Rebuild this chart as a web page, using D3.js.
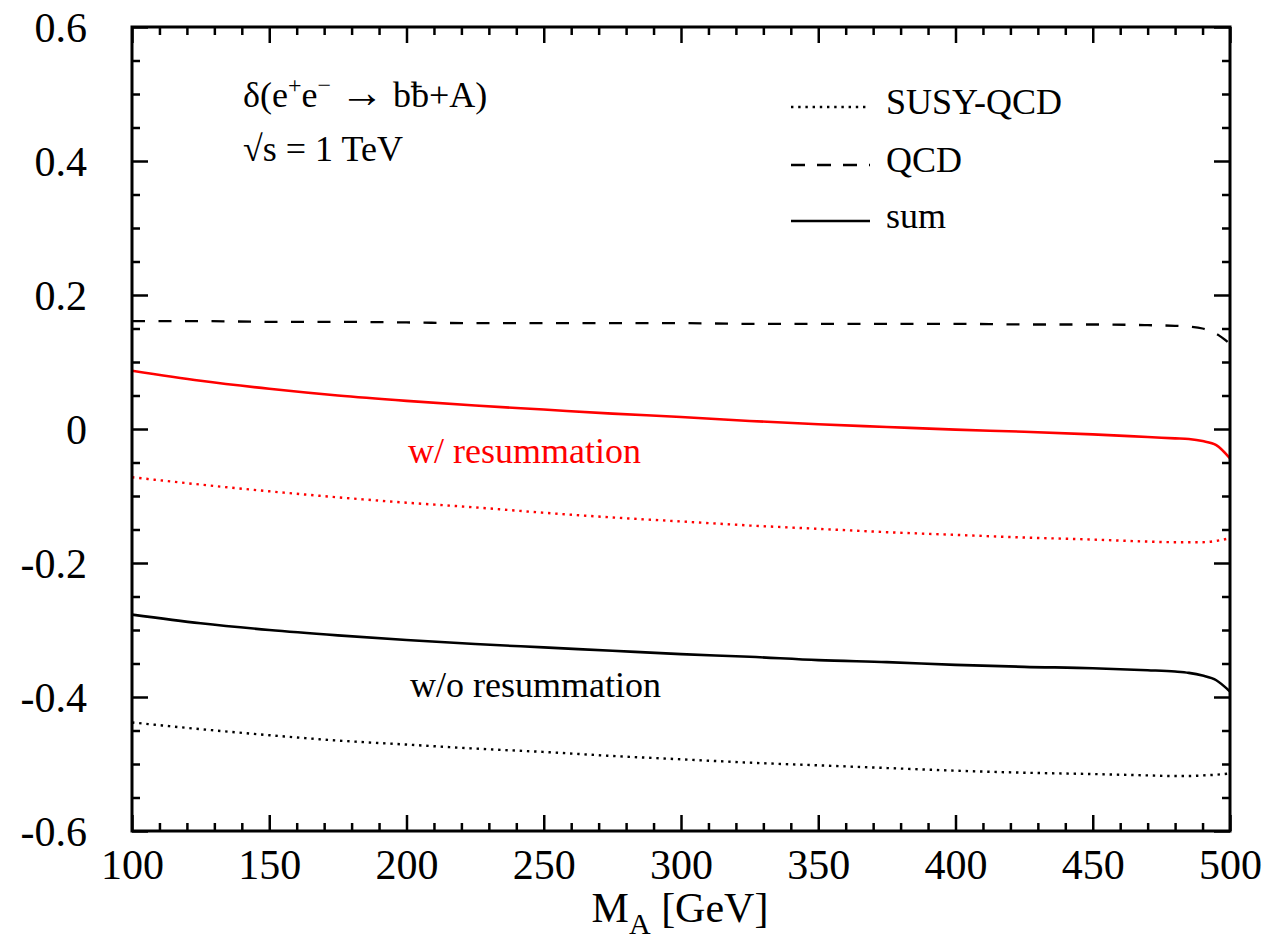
<!DOCTYPE html>
<html>
<head>
<meta charset="utf-8">
<script src="https://cdn.jsdelivr.net/npm/d3@7"></script>
<style>
  html, body { margin: 0; padding: 0; background: #fff; }
  svg { display: block; }
  svg text { font-family: "Liberation Serif", "Times New Roman", "Nimbus Roman", "DejaVu Serif", serif !important; fill: #000; }
</style>
</head>
<body>
<svg id="chart" width="1281" height="949"></svg>
<script>
// Higgs mass grid (GeV)
const massA = [100, 125, 150, 175, 200, 225, 250, 275, 300, 325, 350, 375, 400, 425, 450, 470, 480, 485, 490, 495, 500];

// Relative corrections with resummation (red)
const susyQcdRes = [-0.072, -0.083, -0.093, -0.102, -0.110, -0.117, -0.125, -0.132, -0.138, -0.144, -0.149, -0.154, -0.158, -0.162, -0.165, -0.168, -0.169, -0.169, -0.169, -0.167, -0.163];
const sumRes     = [0.087, 0.072, 0.060, 0.050, 0.042, 0.035, 0.029, 0.023, 0.018, 0.012, 0.007, 0.003, -0.001, -0.004, -0.008, -0.012, -0.014, -0.015, -0.018, -0.024, -0.044];

// QCD correction (common to both)
const qcd        = [0.161, 0.161, 0.160, 0.160, 0.159, 0.158, 0.158, 0.158, 0.158, 0.157, 0.157, 0.157, 0.157, 0.156, 0.156, 0.155, 0.154, 0.153, 0.150, 0.142, 0.127];

// Relative corrections without resummation (black)
const susyQcdNoRes = [-0.438, -0.448, -0.457, -0.465, -0.471, -0.477, -0.482, -0.488, -0.493, -0.498, -0.502, -0.506, -0.510, -0.513, -0.515, -0.517, -0.518, -0.518, -0.517, -0.516, -0.514];
const sumNoRes     = [-0.277, -0.290, -0.300, -0.308, -0.315, -0.321, -0.326, -0.331, -0.336, -0.340, -0.345, -0.348, -0.352, -0.355, -0.357, -0.360, -0.362, -0.364, -0.368, -0.375, -0.392];

// Axis ticks
const xMajorTicks = [100, 150, 200, 250, 300, 350, 400, 450, 500];
const xMinorTicks = d3.range(100, 501, 10).filter(v => v % 50 !== 0);
const yMajorTicks = [0.6, 0.4, 0.2, 0, -0.2, -0.4, -0.6];
const yMinorTicks = d3.range(-12, 13).filter(k => k % 4 !== 0).map(k => k * 0.05);
const yTickLabels = ["0.6", "0.4", "0.2", "0", "-0.2", "-0.4", "-0.6"];

const frame = { left: 132, right: 1230, top: 27, bottom: 831 };
const svg = d3.select("#chart");

const x = d3.scaleLinear().domain([100, 500]).range([frame.left, frame.right]);
const y = d3.scaleLinear().domain([-0.6, 0.6]).range([frame.bottom, frame.top]);

// Clip the curves to the frame
svg.append("defs").append("clipPath").attr("id", "plot-clip")
  .append("rect").attr("x", frame.left).attr("y", frame.top)
  .attr("width", frame.right - frame.left).attr("height", frame.bottom - frame.top);

const line = d3.line()
  .x(d => x(d[0]))
  .y(d => y(d[1]))
  .curve(d3.curveMonotoneX);

const series = [
  { values: qcd,          color: "#000", dash: "13,13.5", width: 2.3 },
  { values: susyQcdRes,   color: "#ff0000", dash: "2.4,4.8", width: 2.4 },
  { values: sumRes,       color: "#ff0000", dash: null, width: 2.6 },
  { values: susyQcdNoRes, color: "#000", dash: "2.4,4.8", width: 2.4 },
  { values: sumNoRes,     color: "#000", dash: null, width: 2.6 }
];

const curves = svg.append("g").attr("clip-path", "url(#plot-clip)");
series.forEach(s => {
  curves.append("path")
    .datum(massA.map((m, i) => [m, s.values[i]]))
    .attr("d", line)
    .attr("fill", "none")
    .attr("stroke", s.color)
    .attr("stroke-width", s.width)
    .attr("stroke-dasharray", s.dash);
});

// Ticks on all four sides, pointing inward
function styleTicks(g) {
  g.attr("font-family", null);
  g.select(".domain").remove();
  g.selectAll(".tick line").attr("stroke", "#000").attr("stroke-width", 2.5);
}

svg.append("g").attr("transform", `translate(0,${frame.bottom})`)
  .call(d3.axisBottom(x).tickValues(xMinorTicks).tickSize(-8).tickFormat(""))
  .call(styleTicks);
svg.append("g").attr("transform", `translate(0,${frame.bottom})`)
  .call(d3.axisBottom(x).tickValues(xMajorTicks).tickSize(-16).tickFormat(d3.format("d")))
  .call(styleTicks)
  .call(g => g.selectAll(".tick text").attr("y", 48).attr("dy", null)
    .attr("font-size", 42).attr("fill", "#000"));
svg.append("g").attr("transform", `translate(0,${frame.top})`)
  .call(d3.axisTop(x).tickValues(xMinorTicks).tickSize(-8).tickFormat(""))
  .call(styleTicks);
svg.append("g").attr("transform", `translate(0,${frame.top})`)
  .call(d3.axisTop(x).tickValues(xMajorTicks).tickSize(-16).tickFormat(""))
  .call(styleTicks);

svg.append("g").attr("transform", `translate(${frame.left},0)`)
  .call(d3.axisLeft(y).tickValues(yMinorTicks).tickSize(-8).tickFormat(""))
  .call(styleTicks);
svg.append("g").attr("transform", `translate(${frame.left},0)`)
  .call(d3.axisLeft(y).tickValues(yMajorTicks).tickSize(-16)
    .tickFormat((d, i) => yTickLabels[i]))
  .call(styleTicks)
  .call(g => g.selectAll(".tick text").attr("x", -45).attr("dy", "0.35em")
    .attr("font-size", 42).attr("fill", "#000"));
svg.append("g").attr("transform", `translate(${frame.right},0)`)
  .call(d3.axisRight(y).tickValues(yMinorTicks).tickSize(-8).tickFormat(""))
  .call(styleTicks);
svg.append("g").attr("transform", `translate(${frame.right},0)`)
  .call(d3.axisRight(y).tickValues(yMajorTicks).tickSize(-16).tickFormat(""))
  .call(styleTicks);

// Frame
svg.append("rect")
  .attr("x", frame.left).attr("y", frame.top)
  .attr("width", frame.right - frame.left).attr("height", frame.bottom - frame.top)
  .attr("fill", "none").attr("stroke", "#000").attr("stroke-width", 3);

// Axis title: M_A [GeV]
const xt = svg.append("text").attr("x", 680).attr("y", 922)
  .attr("text-anchor", "middle").attr("font-size", 42);
xt.append("tspan").text("M");
xt.append("tspan").attr("font-size", 30).attr("dy", 12).text("A");
xt.append("tspan").attr("dy", -12).text(" [GeV]");

// Process annotation
const ann = svg.append("text").attr("x", 243).attr("y", 107).attr("font-size", 36);
ann.append("tspan").text("δ(e");
ann.append("tspan").attr("font-size", 24).attr("dy", -14).text("+");
ann.append("tspan").attr("dy", 14).text("e");
ann.append("tspan").attr("font-size", 24).attr("dy", -14).text("−");
ann.append("tspan").attr("dy", 14).text(" ");
ann.append("tspan").attr("font-size", 44).text("→");
ann.append("tspan").text(" bƀ+A)");

svg.append("text").attr("x", 243).attr("y", 161).attr("font-size", 36).text("√s = 1 TeV");

// Legend
const legend = [
  { label: "SUSY-QCD", dash: "2.4,4.8", y: 107 },
  { label: "QCD",      dash: "14,12",   y: 165 },
  { label: "sum",      dash: null,      y: 221 }
];
legend.forEach(l => {
  svg.append("line")
    .attr("x1", 791).attr("x2", 870).attr("y1", l.y).attr("y2", l.y)
    .attr("stroke", "#000").attr("stroke-width", l.dash ? 2.3 : 2.6)
    .attr("stroke-dasharray", l.dash);
  svg.append("text").attr("x", 886).attr("y", l.y + 7).attr("font-size", 36).text(l.label);
});

// Curve group labels
svg.append("text").attr("x", 408).attr("y", 463).attr("font-size", 36)
  .style("fill", "#ff0000").text("w/ resummation");
svg.append("text").attr("x", 410).attr("y", 697).attr("font-size", 36).text("w/o resummation");
</script>
</body>
</html>
